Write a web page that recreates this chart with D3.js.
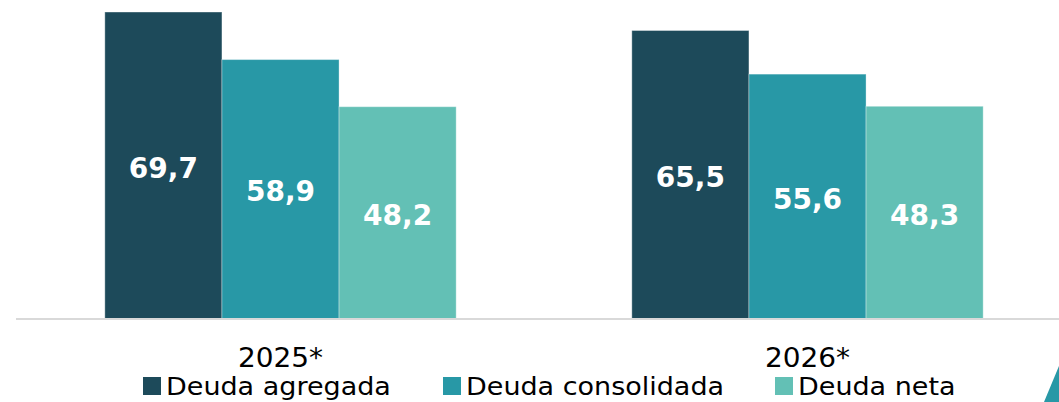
<!DOCTYPE html>
<html>
<head>
<meta charset="utf-8">
<script src="https://cdn.jsdelivr.net/npm/d3@7"></script>
<style>
  body { margin: 0; background: #fff; }
  svg { display: block; font-family: "DejaVu Sans", Verdana, sans-serif; }
</style>
</head>
<body>
<svg id="chart" width="1059" height="402"></svg>
<script>
var years = ["2025*", "2026*"];
var series = ["Deuda agregada", "Deuda consolidada", "Deuda neta"];
var colors = ["#1d4a5a", "#2898a6", "#63c0b5"];
var values2025 = [69.7, 58.9, 48.2];
var values2026 = [65.5, 55.6, 48.3];
var valuesByYear = [values2025, values2026];

var svg = d3.select("#chart");
var baseY = 319;

var x0 = d3.scaleBand().domain(years).range([17, 1071]);
var x1 = d3.scaleBand().domain(series).range([0, x0.bandwidth()]).paddingOuter(0.75);
var y = d3.scaleLinear().domain([0, 70]).range([baseY, 10.7]);
var color = d3.scaleOrdinal().domain(series).range(colors);

var fmt = function(v) { return d3.format(".1f")(v).replace(".", ","); };

var rows = [];
years.forEach(function(yr, i) {
  series.forEach(function(s, j) {
    rows.push({year: yr, series: s, value: valuesByYear[i][j]});
  });
});

var groups = svg.append("g").selectAll("g")
  .data(rows).enter().append("g")
  .attr("transform", function(d) { return "translate(" + (x0(d.year) + x1(d.series)) + ",0)"; });

groups.append("rect")
  .attr("x", 0)
  .attr("y", function(d) { return y(d.value); })
  .attr("width", x1.bandwidth())
  .attr("height", function(d) { return baseY - y(d.value); })
  .attr("fill", function(d) { return color(d.series); })
  .attr("stroke", "rgba(255,255,255,0.35)")
  .attr("stroke-width", 1);

groups.append("text")
  .attr("x", x1.bandwidth() / 2)
  .attr("y", function(d) { return (y(d.value) + baseY) / 2 + 12; })
  .attr("text-anchor", "middle")
  .attr("fill", "#fff")
  .attr("font-weight", "bold")
  .attr("font-size", 28)
  .text(function(d) { return fmt(d.value); });

// axis
var axis = d3.axisBottom(x0).tickSize(0).tickPadding(0);
var ax = svg.append("g").attr("transform", "translate(0," + baseY + ")").call(axis);
ax.select(".domain").attr("d", "M16,0H1059").attr("stroke", "#d9d9d9").attr("stroke-width", 2);
ax.selectAll("text")
  .attr("dy", null)
  .attr("y", 0)
  .attr("transform", "translate(0,48) scale(1,0.93)")
  .attr("font-size", 28)
  .attr("font-family", "DejaVu Sans, sans-serif")
  .attr("fill", "#000");

// legend
var legendX = [143, 443, 775];
var leg = svg.append("g").selectAll("g")
  .data(series).enter().append("g")
  .attr("transform", function(d, i) { return "translate(" + legendX[i] + ",377)"; });
leg.append("rect").attr("width", 18).attr("height", 18).attr("fill", function(d) { return color(d); });
leg.append("text")
  .attr("transform", "translate(23,18) scale(1,0.9)")
  .attr("font-size", 27)
  .attr("fill", "#000")
  .text(function(d) { return d; });

// corner logo fragment
svg.append("path")
  .attr("d", "M1044,402L1059,366V402Z")
  .attr("fill", "#2898a6");
</script>
</body>
</html>
